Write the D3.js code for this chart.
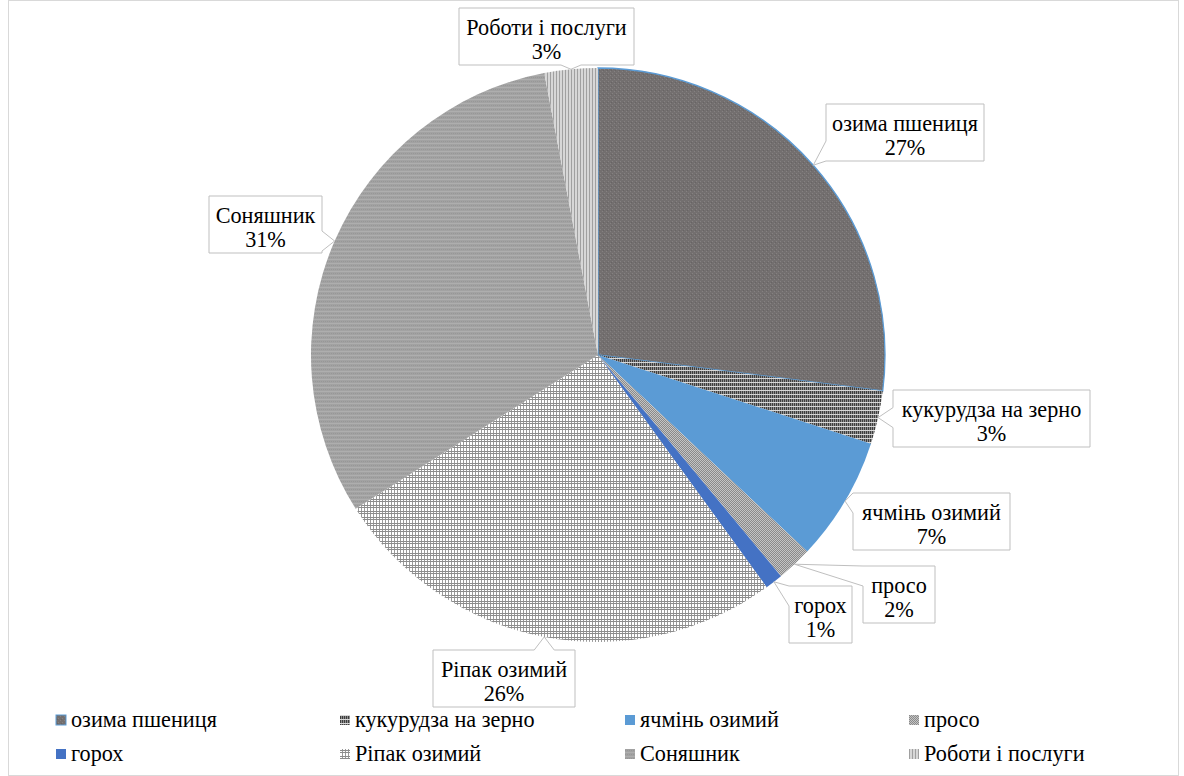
<!DOCTYPE html>
<html>
<head>
<meta charset="utf-8">
<script src="https://cdn.jsdelivr.net/npm/d3@7/dist/d3.min.js"></script>
<style>
  html, body { margin: 0; padding: 0; background: #fff; }
  svg { display: block; }
</style>
</head>
<body>
<svg id="chart" width="1184" height="776"></svg>
<script>
// Structure of crop production revenue, shares in percent
const categories = ["озима пшениця", "кукурудза на зерно", "ячмінь озимий", "просо",
                    "горох", "Ріпак озимий", "Соняшник", "Роботи і послуги"];
const shares = [27, 3, 7, 2, 1, 26, 31, 3];

// Fill for each slice (pattern ids or solid colours)
const fills = ["url(#p-wheat)", "url(#p-corn)", "#5b9bd5", "url(#p-millet)",
               "#4472c4", "url(#p-rape)", "url(#p-sun)", "url(#p-works)"];

// Callout boxes: left, top, width
const labelBoxes = [
  [826, 104, 158], [893, 390, 197], [853, 493, 157], [863, 566, 72],
  [789, 586, 63], [433, 650, 142], [209, 196, 113], [459, 8, 175]
];

const FONT = "'Liberation Serif', 'Times New Roman', serif";

const svg = d3.select("#chart");
const W = 1184, H = 776;
const cx = 598, cy = 355, R = 287;

// size the font so the first category name spans about 146px
const probe = svg.append("text").attr("font-family", FONT).attr("font-size", 20).text(categories[0]);
const probeW = probe.node().getComputedTextLength() || 130;
probe.remove();
const FS = Math.max(16, Math.min(26, 20 * 146 / probeW));

// chart frame
svg.append("rect").attr("x", 8.5).attr("y", 0.5).attr("width", W - 14).attr("height", H - 1)
  .attr("fill", "#fff").attr("stroke", "#d9d9d9");

// ---- pattern fills ----
const defs = svg.append("defs");
function pattern(id, w, h, bg, rects) {
  const p = defs.append("pattern").attr("id", id).attr("patternUnits", "userSpaceOnUse")
    .attr("width", w).attr("height", h);
  p.append("rect").attr("width", w).attr("height", h).attr("fill", bg);
  rects.forEach(r => p.append("rect").attr("x", r[0]).attr("y", r[1])
    .attr("width", r[2]).attr("height", r[3]).attr("fill", r[4]));
}
pattern("p-wheat", 4, 4, "#736f6f", [[0, 0, 1, 1, "#858181"], [2, 2, 1, 1, "#858181"], [1, 3, 1, 1, "#686464"]]);
pattern("p-corn", 4, 4, "#d8d8d8", [[0, 0, 1, 3, "#3e3e3e"], [2, 0, 1, 3, "#3e3e3e"], [1, 0, 1, 3, "#8e8e8e"], [3, 0, 1, 3, "#8e8e8e"]]);
pattern("p-millet", 2, 2, "#c4c4c4", [[0, 0, 1, 1, "#8a8a8a"], [1, 1, 1, 1, "#8a8a8a"]]);
pattern("p-rape", 6, 6, "#ffffff", [[0, 0, 1, 6, "#9a9a9a"], [3, 0, 1, 6, "#9a9a9a"], [0, 0, 6, 1, "#8c8c8c"], [0, 2, 6, 1, "#8c8c8c"]]);
pattern("p-sun", 4, 4, "#a2a2a2", [[0, 0, 4, 1, "#aeaeae"], [1, 2, 1, 1, "#979797"], [3, 2, 1, 1, "#979797"]]);
pattern("p-works", 3, 3, "#d7d7d7", [[0, 0, 1, 3, "#a0a0a0"]]);

// ---- pie ----
const pie = d3.pie().sort(null).value(d => d)(shares);
const arc = d3.arc().innerRadius(0).outerRadius(R);
const g = svg.append("g").attr("transform", `translate(${cx},${cy})`);
g.selectAll("path.slice").data(pie).join("path")
  .attr("class", "slice")
  .attr("d", arc)
  .attr("fill", (d, i) => fills[i])
  .attr("stroke", (d, i) => i === 0 ? "#5b9bd5" : "none")
  .attr("stroke-width", 1.3);

// ---- callout labels ----
const total = d3.sum(shares);
const pct = v => Math.round(v / total * 100) + "%";

function calloutPath(b, tip) {
  const [x, y, w] = b, h = 57;
  const L = x, Rr = x + w, T = y, B = y + h;
  const ox = tip[0] < L ? L - tip[0] : tip[0] > Rr ? tip[0] - Rr : 0;
  const oy = tip[1] < T ? T - tip[1] : tip[1] > B ? tip[1] - B : 0;
  const hw = 10;
  const cl = (v, a, b2) => Math.max(a, Math.min(b2, v));
  const t = `L${tip[0]},${tip[1]}`;
  if (ox >= oy) {
    const c = cl(tip[1], T + hw, B - hw);
    if (tip[0] < L) return `M${L},${T}H${Rr}V${B}H${L}V${c + hw}${t}L${L},${c - hw}Z`;
    return `M${L},${T}H${Rr}V${c - hw}${t}L${Rr},${c + hw}V${B}H${L}Z`;
  } else {
    const c = cl(tip[0], L + hw, Rr - hw);
    if (tip[1] < T) return `M${L},${T}H${c - hw}${t}L${c + hw},${T}H${Rr}V${B}H${L}Z`;
    return `M${L},${T}H${Rr}V${B}H${c + hw}${t}L${c - hw},${B}H${L}Z`;
  }
}

const labels = svg.append("g");
pie.forEach((d, i) => {
  const mid = (d.startAngle + d.endAngle) / 2;
  const tip = [cx + R * Math.sin(mid), cy - R * Math.cos(mid)];
  const b = labelBoxes[i];
  labels.append("path")
    .attr("d", calloutPath(b, tip))
    .attr("fill", "#fff").attr("stroke", "#bfbfbf").attr("stroke-width", 1);
  const tx = b[0] + b[2] / 2;
  labels.append("text").attr("x", tx).attr("y", b[1] + 27).attr("text-anchor", "middle")
    .attr("font-family", FONT).attr("font-size", FS).attr("fill", "#000").text(categories[i]);
  labels.append("text").attr("x", tx).attr("y", b[1] + 51).attr("text-anchor", "middle")
    .attr("font-family", FONT).attr("font-size", FS).attr("fill", "#000").text(pct(shares[i]));
});

// ---- legend ----
const colX = [56, 340, 625, 909];
const rowY = [715, 749];
const legend = svg.append("g");
categories.forEach((c, i) => {
  const x = colX[i % 4], y = rowY[Math.floor(i / 4)];
  legend.append("rect").attr("x", x).attr("y", y).attr("width", 10).attr("height", 10)
    .attr("fill", fills[i])
    .attr("stroke", i === 0 ? "#5b9bd5" : "none").attr("stroke-width", 1);
  legend.append("text").attr("x", x + 15).attr("y", y + 12).attr("font-family", FONT)
    .attr("font-size", FS).attr("fill", "#000").text(c);
});
</script>
</body>
</html>
